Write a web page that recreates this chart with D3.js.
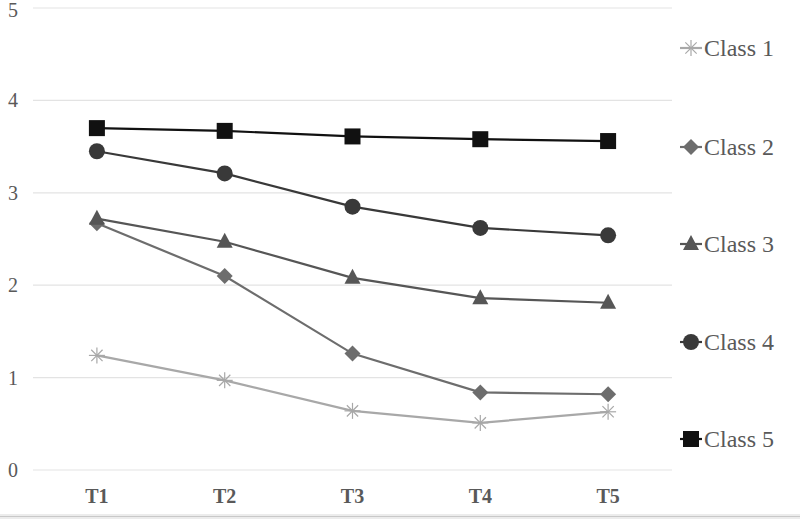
<!DOCTYPE html>
<html><head><meta charset="utf-8">
<script src="https://cdn.jsdelivr.net/npm/d3@7"></script>
<style>body{margin:0;background:#fff}svg{display:block}</style>
</head><body>
<script>
const categories = ["T1","T2","T3","T4","T5"];
const seriesNames = ["Class 1","Class 2","Class 3","Class 4","Class 5"];
const class1 = [1.24,0.97,0.64,0.51,0.63];
const class2 = [2.67,2.10,1.26,0.84,0.82];
const class3 = [2.72,2.47,2.08,1.86,1.81];
const class4 = [3.45,3.21,2.85,2.62,2.54];
const class5 = [3.70,3.67,3.61,3.58,3.56];
const yTicks = [0,1,2,3,4,5];

const W=800,H=519;
const svg=d3.select("body").append("svg").attr("width",W).attr("height",H);
const x=d3.scaleBand().domain(categories).range([33,672]);
const y=d3.scaleLinear().domain([0,5]).range([470,8]);

// bottom border
svg.append("rect").attr("x",0).attr("y",514).attr("width",W).attr("height",5).attr("fill","#ececec");
svg.append("line").attr("x1",0).attr("x2",W).attr("y1",516.5).attr("y2",516.5).attr("stroke","#c8c8c8").attr("stroke-width",1);

// gridlines
svg.append("g").selectAll("line").data(yTicks).join("line")
  .attr("x1",33).attr("x2",672).attr("y1",d=>y(d)).attr("y2",d=>y(d))
  .attr("stroke","#e3e3e3").attr("stroke-width",1.2);

// y labels
svg.append("g").selectAll("text").data(yTicks).join("text")
  .attr("x",18).attr("y",d=>Math.max(y(d)+7,17)).attr("text-anchor","end")
  .attr("font-family","Liberation Serif").attr("font-size",20).attr("fill","#595959")
  .text(d=>d);

// x labels
svg.append("g").selectAll("text").data(categories).join("text")
  .attr("x",d=>x(d)+x.bandwidth()/2).attr("y",503).attr("text-anchor","middle")
  .attr("font-family","Liberation Serif").attr("font-weight","bold").attr("font-size",20).attr("fill","#595959")
  .text(d=>d);

const series=[
  {name:seriesNames[0],vals:class1,color:"#a8a8a8",sym:"star",lw:2.2},
  {name:seriesNames[1],vals:class2,color:"#6d6d6d",sym:"diamond",lw:2.2},
  {name:seriesNames[2],vals:class3,color:"#565656",sym:"triangle",lw:2.2},
  {name:seriesNames[3],vals:class4,color:"#393939",sym:"circle",lw:2.2},
  {name:seriesNames[4],vals:class5,color:"#111111",sym:"square",lw:2.2}
];

function marker(g,s,cx,cy){
  if(s.sym==="star"){
    const r=8;
    [0,45,90,135].forEach(a=>{
      const rad=a*Math.PI/180;
      g.append("line").attr("x1",cx-r*Math.cos(rad)).attr("y1",cy-r*Math.sin(rad))
       .attr("x2",cx+r*Math.cos(rad)).attr("y2",cy+r*Math.sin(rad))
       .attr("stroke",s.color).attr("stroke-width",1.2);
    });
  } else if(s.sym==="diamond"){
    g.append("path").attr("d",`M${cx},${cy-8}L${cx+8},${cy}L${cx},${cy+8}L${cx-8},${cy}Z`).attr("fill",s.color);
  } else if(s.sym==="triangle"){
    g.append("path").attr("d",`M${cx},${cy-9}L${cx+8},${cy+6}L${cx-8},${cy+6}Z`).attr("fill",s.color);
  } else if(s.sym==="circle"){
    g.append("circle").attr("cx",cx).attr("cy",cy).attr("r",8).attr("fill",s.color);
  } else {
    g.append("rect").attr("x",cx-8).attr("y",cy-8).attr("width",16).attr("height",16).attr("fill",s.color);
  }
}

const line=d3.line().x((d,i)=>x(categories[i])+x.bandwidth()/2).y(d=>y(d));
series.forEach(s=>{
  const g=svg.append("g");
  g.append("path").attr("d",line(s.vals)).attr("fill","none").attr("stroke",s.color).attr("stroke-width",s.lw);
  s.vals.forEach((v,i)=>marker(g,s,x(categories[i])+x.bandwidth()/2,y(v)));
});

// legend
const legY=[48,147,244,342,439];
series.forEach((s,i)=>{
  const g=svg.append("g");
  const cy=legY[i];
  g.append("line").attr("x1",680).attr("x2",702).attr("y1",cy).attr("y2",cy).attr("stroke",s.color).attr("stroke-width",2.2);
  marker(g,s,691,cy);
  g.append("text").attr("x",704).attr("y",cy+8).attr("font-family","Liberation Serif").attr("font-size",24).attr("fill","#595959").text(s.name);
});
</script>
</body></html>
